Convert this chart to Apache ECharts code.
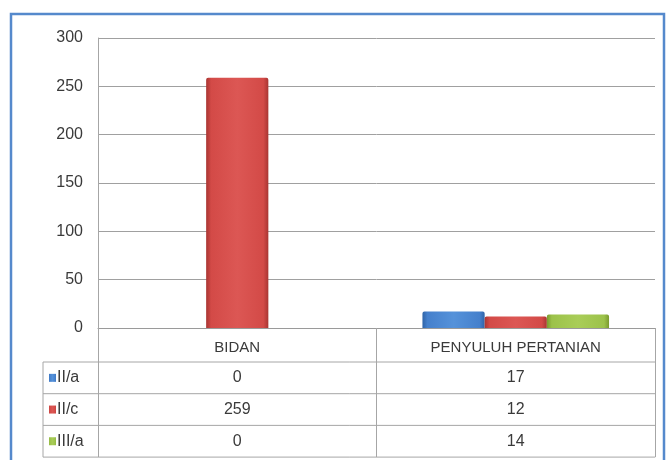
<!DOCTYPE html>
<html>
<head>
<meta charset="utf-8">
<script src="https://cdn.jsdelivr.net/npm/echarts@6/dist/echarts.min.js"></script>
<style>
  html, body { margin: 0; padding: 0; background: #fff; }
  #chart { width: 669px; height: 460px; }
</style>
</head>
<body>
<div id="chart"></div>
<script>
// data
var categories = ["BIDAN", "PENYULUH PERTANIAN"];
var seriesNames = ["II/a", "II/c", "III/a"];
var valuesIIa = [0, 17];
var valuesIIc = [259, 12];
var valuesIIIa = [0, 14];
var yTicks = [0, 50, 100, 150, 200, 250, 300];

var seriesValues = [valuesIIa, valuesIIc, valuesIIIa];
var fontName = "'Liberation Sans', Arial, sans-serif";
var textColor = "#3a3a3a";
// edge, middle, highlight colours per series (excel bevel look)
var palette = [
    ["#2f64a8", "#4580cc", "#5592da"],
    ["#a83532", "#d34a47", "#dc5754"],
    ["#7a9a2e", "#9cc24a", "#a9cd58"]
];

function barColor(p) {
    return new echarts.graphic.LinearGradient(0, 0, 1, 0, [
        { offset: 0, color: p[0] },
        { offset: 0.08, color: p[1] },
        { offset: 0.5, color: p[2] },
        { offset: 0.92, color: p[1] },
        { offset: 1, color: p[0] }
    ]);
}

var chartDom = document.getElementById("chart");
var myChart = echarts.init(chartDom);

var series = [];
for (var i = 0; i < seriesNames.length; i++) {
    series.push({
        name: seriesNames[i],
        type: "bar",
        data: seriesValues[i],
        barGap: 0,
        barCategoryGap: "33%",
        itemStyle: {
            color: barColor(palette[i]),
            borderWidth: 0,
            borderRadius: [2, 2, 0, 0]
        }
    });
}

var option = {
    backgroundColor: "#fff",
    animation: false,
    textStyle: { fontFamily: fontName },
    grid: { left: 98, right: 14, top: 38, bottom: 132 },
    xAxis: {
        type: "category",
        data: categories,
        axisLine: { lineStyle: { color: "#9a9a9a", width: 1 } },
        axisTick: { show: true, interval: 0, length: 129, lineStyle: { color: "#a6a6a6" } },
        axisLabel: { color: textColor, fontSize: 15, margin: 12, fontFamily: fontName }
    },
    yAxis: {
        type: "value",
        min: yTicks[0],
        max: yTicks[yTicks.length - 1],
        interval: 50,
        axisLine: { show: true, lineStyle: { color: "#a6a6a6" } },
        axisTick: { show: false },
        splitLine: { lineStyle: { color: "#a0a0a0" } },
        axisLabel: { color: textColor, fontSize: 16, margin: 15, fontFamily: fontName }
    },
    series: series
};

myChart.setOption(option);

// data table under the axis, placed from the axis scale
var tableLeft = 43;
var rowTop = 362;
var rowH = 31.7;
var xRight = myChart.convertToPixel({ xAxisIndex: 0 }, categories.length - 1) + 139.5;
var graphics = [];

// outer frame
graphics.push({
    type: "rect",
    shape: { x: 11, y: 14, width: 653, height: 460 },
    style: { fill: null, stroke: "#5589cc", lineWidth: 2.5 },
    silent: true
});

for (var r = 0; r <= seriesNames.length; r++) {
    graphics.push({
        type: "line",
        shape: { x1: tableLeft, y1: rowTop + r * rowH, x2: xRight, y2: rowTop + r * rowH },
        style: { stroke: "#a6a6a6", lineWidth: 1 },
        silent: true
    });
}
graphics.push({
    type: "line",
    shape: { x1: tableLeft, y1: rowTop, x2: tableLeft, y2: rowTop + seriesNames.length * rowH },
    style: { stroke: "#a6a6a6", lineWidth: 1 },
    silent: true
});

for (var s = 0; s < seriesNames.length; s++) {
    var cy = rowTop + s * rowH + rowH / 2;
    graphics.push({
        type: "rect",
        shape: { x: tableLeft + 6, y: cy - 4, width: 7, height: 8 },
        style: { fill: barColor(palette[s]) },
        silent: true
    });
    graphics.push({
        type: "text",
        x: tableLeft + 14,
        y: cy,
        style: {
            text: seriesNames[s],
            fill: textColor,
            font: "16px " + fontName,
            align: "left",
            verticalAlign: "middle"
        },
        silent: true
    });
    for (var c = 0; c < categories.length; c++) {
        graphics.push({
            type: "text",
            x: myChart.convertToPixel({ xAxisIndex: 0 }, c),
            y: cy,
            style: {
                text: String(seriesValues[s][c]),
                fill: textColor,
                font: "16px " + fontName,
                align: "center",
                verticalAlign: "middle"
            },
            silent: true
        });
    }
}

myChart.setOption({ graphic: graphics });
</script>
</body>
</html>
